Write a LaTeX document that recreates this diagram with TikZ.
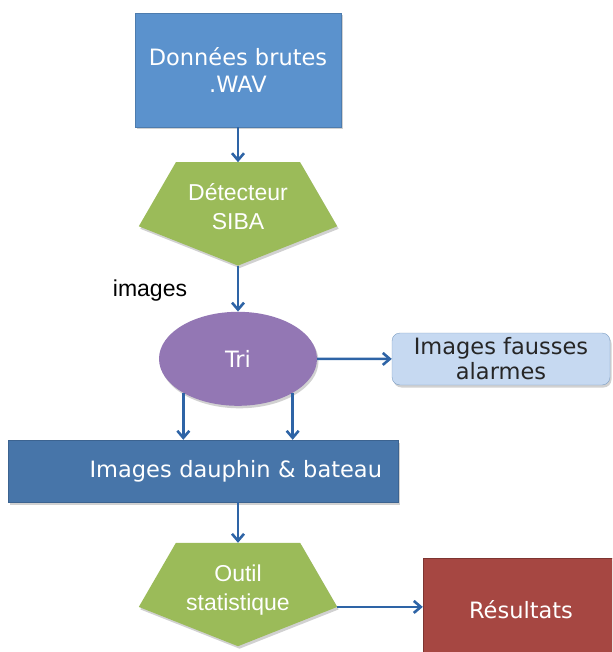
\documentclass[tikz,border=0pt]{standalone}
\usepackage{fontspec}
\usepackage{tikz}
\usetikzlibrary{arrows.meta,positioning,calc,shapes.geometric,backgrounds,shadows}
\newfontfamily\lucida{DejaVu Sans}
\newfontfamily\arial{Liberation Sans}
\definecolor{bleuclair}{RGB}{91,146,205}
\definecolor{bleufonce}{RGB}{71,117,169}
\definecolor{bleupale}{RGB}{198,217,241}
\definecolor{vertpent}{RGB}{155,187,89}
\definecolor{violettri}{RGB}{147,119,180}
\definecolor{rougeres}{RGB}{166,71,66}
\definecolor{bleufleche}{RGB}{46,100,166}

\tikzset{
  ombre/.style={drop shadow={shadow xshift=1.5pt, shadow yshift=-2.5pt, opacity=.3, fill=black!60}},
  boite/.style={rectangle, ombre, text=white, align=center, inner sep=0pt,
    font=\lucida\fontsize{22.5}{27}\selectfont},
  pentatexte/.style={rectangle, minimum width=198pt, minimum height=103pt, inner sep=0pt,
    text=white, align=center, text height=46pt, text depth=15pt,
    font=\arial\fontsize{23}{29}\selectfont},
  fleche/.style={draw=bleufleche, line width=2.6pt, -{Straight Barb[length=7pt,width=12pt]}}
}

% pentagone pointe en bas, dans le cadre du noeud
\newcommand{\pentagone}[1]{%
  \coordinate (#1-gauche) at ($(#1.north west)!.62!(#1.south west)$);
  \coordinate (#1-droite) at ($(#1.north east)!.62!(#1.south east)$);
  \fill[vertpent, ombre] ($(#1.north west)!.187!(#1.north east)$) -- ($(#1.north west)!.813!(#1.north east)$)
    -- (#1-droite) -- (#1.south) -- (#1-gauche) -- cycle;
}

\begin{document}
\begin{tikzpicture}[x=1pt, y=-1pt]
    \clip (0,0) rectangle (612,652);

    \node[boite, fill=bleuclair, draw=bleuclair!85!black, minimum width=206pt, minimum height=114pt] (donnees) at (238,70) {Données brutes\\.WAV};
    \node[pentatexte, below=35pt of donnees] (det) {Détecteur\\SIBA};
    \node[ellipse, ombre, fill=violettri, minimum width=158pt, minimum height=94pt, text=white, font=\lucida\fontsize{22.5}{27}\selectfont, below=46pt of det] (tri) {Tri};
    \node[font=\arial\fontsize{23}{28}\selectfont] (images) at (150,291) {images};
    \node[boite, fill=bleupale, draw=bleufonce!70, rounded corners=8pt, text=black!85, minimum width=218pt, minimum height=52pt, font=\lucida\fontsize{22.5}{25}\selectfont] (fausses) at (501,359) {Images fausses\\alarmes};
    \node[boite, fill=bleufonce, draw=bleufonce!85!black, text width=358pt, inner xsep=16pt, align=right, minimum height=62pt] (dauphin) at (203,471) {Images dauphin \& bateau};
    \node[pentatexte] (outil) at (238,594.5) {Outil\\statistique};
    \node[boite, fill=rougeres, draw=rougeres!75!black, minimum width=196pt, minimum height=104pt] (resultats) at (521,610) {Résultats};

    \begin{scope}[on background layer]
        \pentagone{det}
        \pentagone{outil}
    \end{scope}

    \draw[fleche] (donnees) -- (det);
    \draw[fleche] (det.south) -- (tri);
    \draw[fleche] (tri) -- (fausses);
    \draw[fleche] (tri.212) -- (tri.212 |- dauphin.north);
    \draw[fleche] (tri.328) -- (tri.328 |- dauphin.north);
    \draw[fleche] (dauphin.south -| outil.north) -- (outil.north);
    \draw[fleche] (outil-droite) -- (outil-droite -| resultats.west);
\end{tikzpicture}
\end{document}
